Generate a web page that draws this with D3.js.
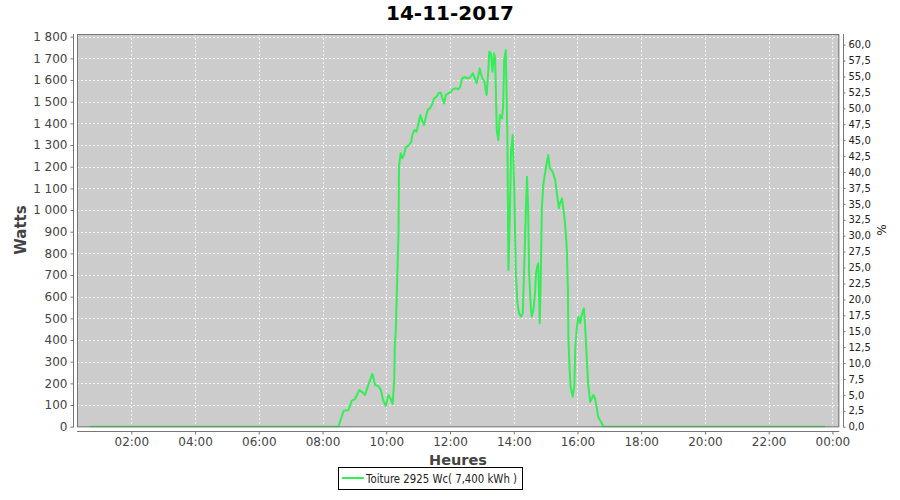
<!DOCTYPE html>
<html>
<head>
<meta charset="utf-8">
<script src="https://cdn.jsdelivr.net/npm/d3@7"></script>
<style>
  html, body { margin: 0; padding: 0; background: #fff; }
  svg { display: block; font-family: "DejaVu Sans", sans-serif; }
</style>
</head>
<body>
<svg id="chart" width="900" height="500"></svg>
<script>
// ---- data ----
const title = "14-11-2017";
const seriesName = "Toiture 2925 Wc( 7,400 kWh )";
const times = ["00:42","08:30","08:36","08:40","08:49","08:55","09:01","09:09","09:16","09:20","09:26","09:33","09:34","09:39","09:45","09:50","09:54","09:59","10:04","10:08","10:12","10:15","10:16","10:18","10:23","10:24","10:27","10:30","10:33","10:37","10:43","10:47","10:49","10:53","10:57","11:00","11:04","11:07","11:11","11:14","11:18","11:22","11:26","11:30","11:35","11:39","11:43","11:45","11:49","11:52","11:57","12:02","12:05","12:11","12:16","12:19","12:23","12:28","12:33","12:38","12:43","12:46","12:50","12:53","12:56","12:58","13:01","13:05","13:07","13:09","13:12","13:14","13:17","13:20","13:23","13:25","13:28","13:31","13:34","13:38","13:40","13:42","13:45","13:48","13:50","13:53","13:55","13:58","14:01","14:04","14:07","14:10","14:14","14:17","14:19","14:23","14:25","14:27","14:29","14:32","14:34","14:37","14:40","14:42","14:44","14:46","14:48","14:49","14:51","14:53","14:56","14:58","15:01","15:05","15:08","15:13","15:18","15:22","15:25","15:27","15:31","15:33","15:36","15:38","15:40","15:42","15:43","15:45","15:47","15:51","15:54","15:56","15:59","16:02","16:05","16:08","16:12","16:14","16:17","16:20","16:24","16:27","16:30","16:33","16:36","16:39","16:42","16:46","16:49","23:46"];
const watts = [0,0,46,74,77,120,126,169,157,146,192,239,243,192,188,169,123,96,146,131,105,215,369,446,893,1200,1262,1239,1254,1292,1300,1315,1346,1369,1362,1392,1438,1415,1392,1423,1462,1469,1485,1515,1523,1541,1541,1520,1492,1531,1538,1546,1557,1562,1557,1569,1608,1613,1608,1613,1631,1613,1585,1615,1654,1631,1608,1592,1554,1531,1638,1731,1723,1638,1723,1700,1369,1323,1438,1423,1477,1692,1738,1354,723,1015,1277,1346,1092,708,569,523,508,523,677,1015,1154,1015,708,554,508,538,615,708,738,754,585,477,708,1015,1123,1154,1200,1254,1193,1177,1139,1062,1008,1031,1054,1015,954,892,815,631,400,277,185,138,185,369,462,508,477,515,546,485,338,200,115,131,146,131,92,46,31,15,0,0];
const xTickLabels = ["02:00","04:00","06:00","08:00","10:00","12:00","14:00","16:00","18:00","20:00","22:00","00:00"];
const leftTicks = [0,100,200,300,400,500,600,700,800,900,1000,1100,1200,1300,1400,1500,1600,1700,1800];
const rightTicks = [0,2.5,5,7.5,10,12.5,15,17.5,20,22.5,25,27.5,30,32.5,35,37.5,40,42.5,45,47.5,50,52.5,55,57.5,60];

// ---- helpers ----
const toMin = s => { const [h, m] = s.split(":").map(Number); return h * 60 + m; };
const data = times.map((t, i) => ({ t: toMin(t), w: watts[i] }));
const xTickVals = xTickLabels.map((l, i) => (i + 1) * 120);

const svg = d3.select("#chart");
const plot = { left: 77, right: 839.3, top: 34, bottom: 427.3 };

const x = d3.scaleLinear().domain([17.7, 1453]).range([plot.left, plot.right]);
const y = d3.scaleLinear().domain([-2.8, 1812.4]).range([plot.bottom, plot.top]);
const yR = d3.scaleLinear().domain([-0.094, 61.68]).range([plot.bottom, plot.top]);

// plot background
svg.append("rect")
  .attr("x", plot.left).attr("y", plot.top)
  .attr("width", plot.right - plot.left).attr("height", plot.bottom - plot.top)
  .attr("fill", "#cccccc");

// grid lines
const grid = svg.append("g").attr("stroke", "#f2f2f2").attr("stroke-width", 1).attr("stroke-dasharray", "2,2");
grid.selectAll(".gv").data(xTickVals).join("line")
  .attr("x1", d => Math.round(x(d)) + 0.5).attr("x2", d => Math.round(x(d)) + 0.5)
  .attr("y1", plot.top).attr("y2", plot.bottom);
grid.selectAll(".gh").data(leftTicks).join("line")
  .attr("x1", plot.left).attr("x2", plot.right)
  .attr("y1", d => Math.round(y(d)) + 0.5).attr("y2", d => Math.round(y(d)) + 0.5);

// line
const clipId = "clipPlot";
svg.append("clipPath").attr("id", clipId).append("rect")
  .attr("x", plot.left).attr("y", plot.top)
  .attr("width", plot.right - plot.left).attr("height", plot.bottom - plot.top);
svg.append("path")
  .datum(data)
  .attr("clip-path", `url(#${clipId})`)
  .attr("fill", "none")
  .attr("stroke", "#33ee55")
  .attr("stroke-width", 2)
  .attr("stroke-linejoin", "round")
  .attr("d", d3.line().x(d => x(d.t)).y(d => y(d.w)));

// plot border
svg.append("rect")
  .attr("x", plot.left + 0.5).attr("y", plot.top + 0.5)
  .attr("width", plot.right - plot.left - 1).attr("height", plot.bottom - plot.top - 1)
  .attr("fill", "none").attr("stroke", "#777").attr("stroke-width", 1);

// left axis
const gL = svg.append("g").attr("transform", "translate(73.5,0)")
  .call(d3.axisLeft(y).tickValues(leftTicks).tickSize(3).tickPadding(3).tickFormat(d => d >= 1000 ? (Math.floor(d/1000) + " " + d3.format("03d")(d % 1000)) : d));
gL.select(".domain").attr("d", `M0,${plot.top}V${plot.bottom}`).attr("stroke", "#777");
gL.selectAll(".tick line").attr("stroke", "#777");
gL.selectAll("text").attr("font-size", 12).attr("fill", "#444").attr("font-family", "DejaVu Sans");

// bottom axis
const gB = svg.append("g").attr("transform", "translate(0,431.5)")
  .call(d3.axisBottom(x).tickValues(xTickVals).tickSize(3).tickPadding(3).tickFormat((d, i) => xTickLabels[i]));
gB.select(".domain").attr("d", `M${plot.left},0H${plot.right}`).attr("stroke", "#777");
gB.selectAll(".tick line").attr("stroke", "#777");
gB.selectAll("text").attr("font-size", 12).attr("fill", "#444").attr("font-family", "DejaVu Sans");

// right axis
const gR = svg.append("g").attr("transform", "translate(843.5,0)")
  .call(d3.axisRight(yR).tickValues(rightTicks).tickSize(2).tickPadding(3).tickFormat(d => d3.format(".1f")(d).replace(".", ",")));
gR.select(".domain").attr("d", `M0,${plot.top}V${plot.bottom}`).attr("stroke", "#777");
gR.selectAll(".tick line").attr("stroke", "#777");
gR.selectAll("text").attr("font-size", 10).attr("fill", "#222").attr("font-family", "DejaVu Sans");

// title
svg.append("text").attr("x", 450).attr("y", 20).attr("text-anchor", "middle")
  .attr("font-size", 20).attr("font-weight", "bold").attr("fill", "#000").text(title);

// axis titles
svg.append("text").attr("transform", "translate(26,230) rotate(-90)").attr("text-anchor", "middle")
  .attr("font-size", 15).attr("font-weight", "bold").attr("fill", "#444").text("Watts");
svg.append("text").attr("x", 458).attr("y", 465).attr("text-anchor", "middle")
  .attr("font-size", 14.5).attr("font-weight", "bold").attr("fill", "#444").text("Heures");
svg.append("text").attr("transform", "translate(886,230) rotate(-90)").attr("text-anchor", "middle")
  .attr("font-size", 12).attr("fill", "#222").text("%");

// legend
const lg = svg.append("g");
lg.append("rect").attr("x", 338.5).attr("y", 467.5).attr("width", 184).attr("height", 22)
  .attr("fill", "#fff").attr("stroke", "#000").attr("stroke-width", 1);
lg.append("line").attr("x1", 342).attr("x2", 364).attr("y1", 478).attr("y2", 478)
  .attr("stroke", "#33ee55").attr("stroke-width", 2);
lg.append("text").attr("x", 366).attr("y", 482.5).attr("font-size", 12)
  .attr("textLength", 151).attr("lengthAdjust", "spacingAndGlyphs")
  .attr("fill", "#222").text(seriesName);
</script>
</body>
</html>
